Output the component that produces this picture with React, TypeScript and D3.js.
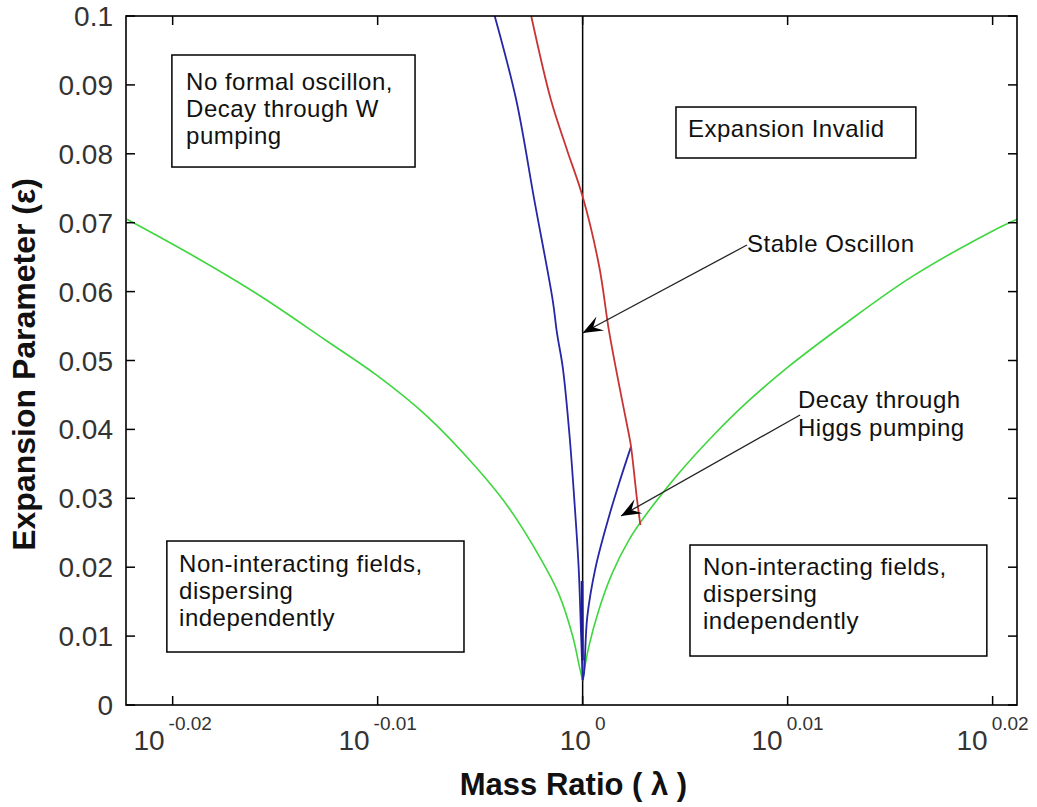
import React from 'react';
import * as d3 from 'd3';

// --- data (λ = mass ratio, ε = expansion parameter) ---
const greenLeftLambda = [0.9501, 0.9572, 0.9644, 0.9716, 0.9772, 0.9826, 0.9881, 0.9917, 0.9954, 0.9973, 0.9989, 0.99963, 1.0];
const greenLeftEps = [0.0705, 0.0652, 0.0594, 0.0529, 0.0478, 0.042, 0.0345, 0.0287, 0.021, 0.0162, 0.0099, 0.0056, 0.0036];

const greenRightLambda = [1.0, 1.0007, 1.00182, 1.00332, 1.00519, 1.00707, 1.01084, 1.01461, 1.01843, 1.02329, 1.02988, 1.0376, 1.04713, 1.05];
const greenRightEps = [0.0036, 0.0085, 0.0138, 0.0191, 0.0239, 0.0275, 0.0336, 0.0389, 0.0437, 0.049, 0.0553, 0.0621, 0.0688, 0.0705];

const blueLeftLambda = [0.99017, 0.99257, 0.9946, 0.99665, 0.99712, 0.99777, 0.99851, 0.99907, 0.99955, 0.99982, 1.0];
const blueLeftEps = [0.1, 0.0878, 0.0732, 0.0587, 0.054, 0.049, 0.0394, 0.0297, 0.02, 0.0104, 0.0036];

const blueCoreLambda = [0.99993, 0.99996, 0.99998];
const blueCoreEps = [0.018, 0.012, 0.0065];

const blueRightLambda = [1.0, 1.00015, 1.00052, 1.00146, 1.00295, 1.00408, 1.00545];
const blueRightEps = [0.0036, 0.0046, 0.0128, 0.02, 0.0273, 0.0321, 0.0375];

const redLambda = [0.99424, 0.99645, 0.99824, 1.0, 1.00187, 1.00295, 1.00408, 1.00519, 1.00545, 1.00614, 1.00651];
const redEps = [0.1, 0.0878, 0.0806, 0.0738, 0.0636, 0.0544, 0.0466, 0.0394, 0.0375, 0.0297, 0.0261];

const xTickExponents = ['-0.02', '-0.01', '0', '0.01', '0.02'];
const yTicks = [0, 0.01, 0.02, 0.03, 0.04, 0.05, 0.06, 0.07, 0.08, 0.09, 0.1];
const yTickLabels = ['0', '0.01', '0.02', '0.03', '0.04', '0.05', '0.06', '0.07', '0.08', '0.09', '0.1'];

// text boxes, in data units
const boxes = [
  { x0: 0.95491, x1: 0.98135, y0: 0.09434, y1: 0.07808, tx: 0.95643, ty: 0.08926, lines: ['No formal oscillon,', 'Decay through W', 'pumping'] },
  { x0: 1.01054, x1: 1.03814, y0: 0.08679, y1: 0.07939, tx: 1.0119, ty: 0.08244, lines: ['Expansion Invalid'] },
  { x0: 0.95437, x1: 0.98676, y0: 0.0238, y1: 0.00769, tx: 0.95568, ty: 0.0193, lines: ['Non-interacting fields,', 'dispersing', 'independently'] },
  { x0: 1.01213, x1: 1.04645, y0: 0.02322, y1: 0.00711, tx: 1.01361, ty: 0.01887, lines: ['Non-interacting fields,', 'dispersing', 'independently'] },
];

const arrows = [
  { fromX: 1.01863, fromY: 0.06676, toX: 1.0, toY: 0.05399, tx: 1.01863, ty: 0.06575, lines: ['Stable Oscillon'] },
  { fromX: 1.02472, fromY: 0.04209, toX: 1.00432, toY: 0.02743, tx: 1.02449, ty: 0.04311, lines: ['Decay through', 'Higgs pumping'] },
];

const W = 1037;
const H = 807;
const margin = { top: 16, right: 20, bottom: 102, left: 126 };
const FONT = '"Liberation Sans", Arial, Helvetica, sans-serif';

function zip(xs: number[], ys: number[]): [number, number][] {
  return xs.map((x, i) => [x, ys[i]]);
}

export default function App() {
  const x = d3.scaleLog().domain([0.95, 1.05]).range([margin.left, W - margin.right]);
  const y = d3.scaleLinear().domain([0, 0.1]).range([H - margin.bottom, margin.top]);

  const line = d3.line<[number, number]>()
    .x(d => x(d[0]))
    .y(d => y(d[1]))
    .curve(d3.curveCatmullRom.alpha(0.5));

  const series = [
    { pts: zip(greenLeftLambda, greenLeftEps), color: '#3fd63f', w: 1.6 },
    { pts: zip(greenRightLambda, greenRightEps), color: '#3fd63f', w: 1.6 },
    { pts: zip(blueLeftLambda, blueLeftEps), color: '#2626a6', w: 1.8 },
    { pts: zip(blueCoreLambda, blueCoreEps), color: '#1c1c8c', w: 2.6 },
    { pts: zip(blueRightLambda, blueRightEps), color: '#2626a6', w: 1.8 },
    { pts: zip(redLambda, redEps), color: '#c83434', w: 1.8 },
  ];

  const x0 = margin.left, x1 = W - margin.right;
  const y0 = H - margin.bottom, y1 = margin.top;
  const tick = 9;

  const arrowHead = (a: typeof arrows[number]) => {
    const tx = x(a.toX), ty = y(a.toY);
    const fx = x(a.fromX), fy = y(a.fromY);
    const ang = Math.atan2(ty - fy, tx - fx);
    const L = 20, hw = 8, notch = 12;
    const c = Math.cos(ang), s = Math.sin(ang);
    const p = (back: number, side: number) => [tx - back * c - side * s, ty - back * s + side * c];
    const pts = [p(0, 0), p(L, hw), p(notch, 0), p(L, -hw)];
    return pts.map(q => q.join(',')).join(' ');
  };

  return (
    <div style={{ position: 'absolute', left: 0, top: 0 }}>
      <svg width={W} height={H} style={{ display: 'block', background: '#fff' }} fontFamily={FONT}>
        {/* centre line λ = 1 */}
        <line x1={x(1)} x2={x(1)} y1={y0} y2={y1} stroke="#000" strokeWidth={1.5} />

        {series.map((s, i) => (
          <path key={i} d={line(s.pts) || ''} fill="none" stroke={s.color} strokeWidth={s.w} strokeLinejoin="round" />
        ))}

        {/* frame */}
        <rect x={x0} y={y1} width={x1 - x0} height={y0 - y1} fill="none" stroke="#000" strokeWidth={1.6} />

        {/* x ticks */}
        {xTickExponents.map(e => {
          const px = x(Math.pow(10, +e));
          return (
            <g key={e}>
              <line x1={px} x2={px} y1={y0} y2={y0 - tick} stroke="#000" strokeWidth={1.5} />
              <line x1={px} x2={px} y1={y1} y2={y1 + tick} stroke="#000" strokeWidth={1.5} />
              <text x={px} y={y0 + 45} textAnchor="middle" fill="#333" fontSize={28}>
                10<tspan dy={-20} dx={4} fontSize={19}>{e}</tspan>
              </text>
            </g>
          );
        })}

        {/* y ticks */}
        {yTicks.map((t, i) => {
          const py = y(t);
          return (
            <g key={t}>
              <line x1={x0} x2={x0 + tick} y1={py} y2={py} stroke="#000" strokeWidth={1.5} />
              <line x1={x1} x2={x1 - tick} y1={py} y2={py} stroke="#000" strokeWidth={1.5} />
              <text x={x0 - 13} y={py + 10} textAnchor="end" fill="#333" fontSize={28}>{yTickLabels[i]}</text>
            </g>
          );
        })}

        {/* axis titles */}
        <text x={(x0 + x1) / 2 + 2} y={795} textAnchor="middle" fontSize={31} fontWeight="bold" fill="#111">Mass Ratio ( λ )</text>
        <text transform={`translate(35,${(y0 + y1) / 2 + 4}) rotate(-90)`} textAnchor="middle" fontSize={32} fontWeight="bold" fill="#111">Expansion Parameter (ε)</text>

        {/* labelled regions */}
        {boxes.map((b, i) => (
          <g key={i}>
            <rect x={x(b.x0)} y={y(b.y0)} width={x(b.x1) - x(b.x0)} height={y(b.y1) - y(b.y0)} fill="#fff" stroke="#000" strokeWidth={1.5} />
            {b.lines.map((l, j) => (
              <text key={j} x={x(b.tx)} y={y(b.ty) + j * 27} fontSize={24} letterSpacing={0.5} fill="#111">{l}</text>
            ))}
          </g>
        ))}

        {/* arrows */}
        {arrows.map((a, i) => (
          <g key={i}>
            <line x1={x(a.fromX)} y1={y(a.fromY)} x2={x(a.toX)} y2={y(a.toY)} stroke="#222" strokeWidth={1.3} />
            <polygon points={arrowHead(a)} fill="#000" />
            {a.lines.map((l, j) => (
              <text key={j} x={x(a.tx)} y={y(a.ty) + j * 28} fontSize={24} letterSpacing={0.5} fill="#111">{l}</text>
            ))}
          </g>
        ))}
      </svg>
    </div>
  );
}
